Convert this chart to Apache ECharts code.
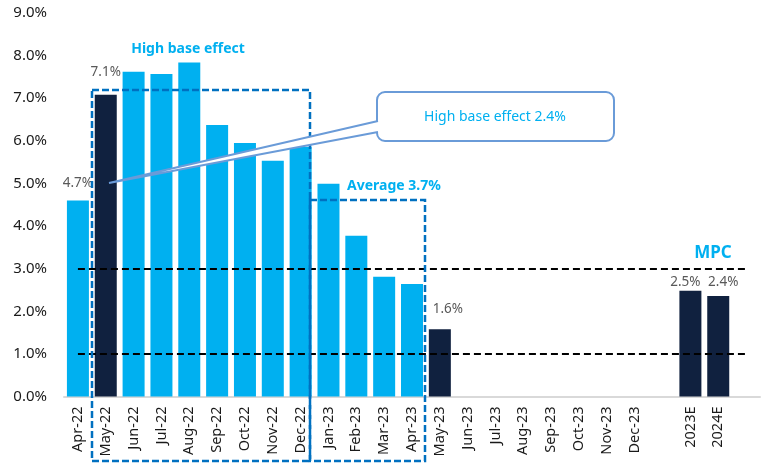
<!DOCTYPE html>
<html>
<head>
<meta charset="utf-8">
<script src="https://cdn.jsdelivr.net/npm/echarts@6/dist/echarts.min.js"></script>
<style>html,body{margin:0;padding:0;background:#fff}#c{width:765px;height:465px}</style>
</head>
<body>
<div id="c"></div>
<script>
const categories = ['Apr-22','May-22','Jun-22','Jul-22','Aug-22','Sep-22','Oct-22','Nov-22','Dec-22','Jan-23','Feb-23','Mar-23','Apr-23','May-23','Jun-23','Jul-23','Aug-23','Sep-23','Oct-23','Nov-23','Dec-23','','2023E','2024E',' '];
const inflation = [4.6,7.08,7.62,7.57,7.84,6.37,5.95,5.53,5.86,4.99,3.77,2.81,2.64,1.58,null,null,null,null,null,null,null,null,2.48,2.36,null];
const darkBars = ['May-22','May-23','2023E','2024E'];
const valueLabels = {'Apr-22':'4.7%','May-22':'7.1%','May-23':'1.6%','2023E':'2.5%','2024E':'2.4%'};
const mpcBand = [1, 3];
const yTicks = [0,1,2,3,4,5,6,7,8,9];

const LIGHT = '#00B0F0', DARK = '#10213F', FONT = '"Noto Sans", sans-serif';
const labelNudge = {'Apr-22':[0,-10],'May-22':[0,-16],'May-23':[8,-13],'2023E':[-5,-2],'2024E':[5,-7]};

const chart = echarts.init(document.getElementById('c'), null, {renderer:'canvas'});
const barData = inflation.map((v,i) => {
  const cat = categories[i];
  const item = {value: v, itemStyle: {color: darkBars.includes(cat) ? DARK : LIGHT}};
  if (valueLabels[cat]) {
    const n = labelNudge[cat] || [0,-8];
    item.label = {show:true, position:'top', distance:0, offset:n, formatter: valueLabels[cat],
      color:'#595959', fontSize:13.5, fontFamily:FONT};
  }
  return item;
});

const dashBlue = '#0070C0', calloutStroke = '#6A9BD8';
chart.setOption({
  animation:false,
  grid:{left:64, right:5, top:13, bottom:68.5},
  xAxis:{type:'category', data:categories,
    axisLine:{lineStyle:{color:'#d9d9d9', width:2}}, axisTick:{show:false},
    axisLabel:{rotate:90, interval:0, margin:10, color:'#1a1a1a', fontSize:14.5, fontFamily:FONT}},
  yAxis:{type:'value', min:yTicks[0], max:yTicks[yTicks.length-1], interval:1,
    axisLine:{show:false}, axisTick:{show:false}, splitLine:{show:false},
    axisLabel:{margin:17, color:'#1a1a1a', fontSize:15, fontFamily:FONT, formatter:v=>v.toFixed(1)+'%'}},
  series:[{type:'bar', data:barData, barWidth:22, label:{show:false},
    markLine:{silent:true, symbol:'none', label:{show:false},
      lineStyle:{color:'#000', width:2, type:[7,4]},
      data: mpcBand.map(v => [{coord:[0,v]},{coord:[categories.length-1,v]}])}}],
  graphic:[
    {type:'text', z:100, x:188, y:49, style:{text:'High base effect', fill:LIGHT, font:'bold 14px '+FONT, textAlign:'center', textVerticalAlign:'middle'}},
    {type:'rect', z:100, shape:{x:92,y:90,width:218,height:371}, style:{fill:'none', stroke:dashBlue, lineWidth:2.5, lineDash:[7,3]}},
    {type:'rect', z:100, shape:{x:310,y:200,width:115,height:261}, style:{fill:'none', stroke:dashBlue, lineWidth:2.5, lineDash:[7,3]}},
    {type:'text', z:100, x:347, y:186, style:{text:'Average 3.7%', fill:LIGHT, font:'bold 14px '+FONT, textAlign:'left', textVerticalAlign:'middle'}},
    {type:'rect', z:101, shape:{x:377,y:92,width:237,height:49,r:8}, style:{fill:'#fff', stroke:calloutStroke, lineWidth:2}},
    {type:'polygon', z:102, shape:{points:[[380,121],[109,183],[380,132]]}, style:{fill:'#fff', stroke:null}},
    {type:'polyline', z:103, shape:{points:[[378,121],[109,183],[378,132]]}, style:{fill:null, stroke:calloutStroke, lineWidth:2}},
    {type:'text', z:104, x:495, y:117, style:{text:'High base effect 2.4%', fill:LIGHT, font:'14px '+FONT, textAlign:'center', textVerticalAlign:'middle'}},
    {type:'text', z:100, x:713, y:253, style:{text:'MPC', fill:LIGHT, font:'bold 17px '+FONT, textAlign:'center', textVerticalAlign:'middle'}}
  ]
});
</script>
</body>
</html>
